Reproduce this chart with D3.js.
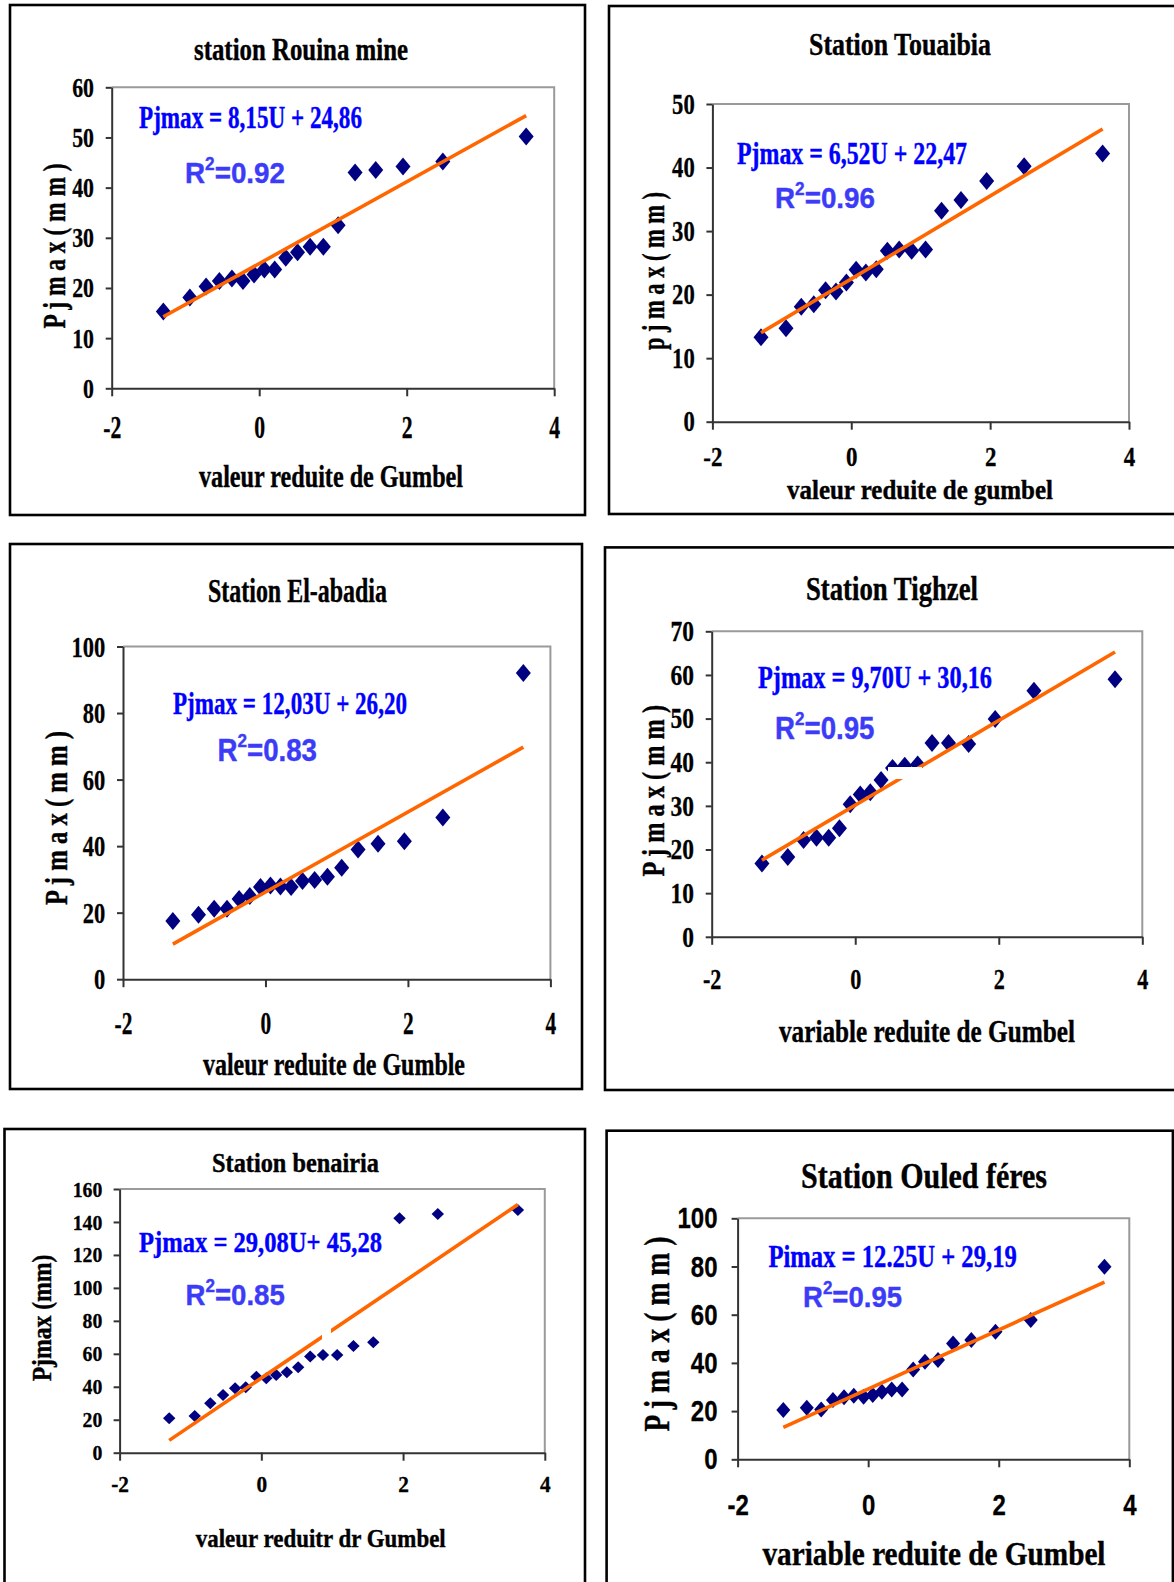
<!DOCTYPE html>
<html>
<head>
<meta charset="utf-8">
<script src="https://d3js.org/d3.v7.min.js"></script>
<style>
  body { margin: 0; background: #fff; }
  svg { display: block; }
</style>
</head>
<body>
<svg width="1174" height="1582"></svg>
<script>
// Gumbel reduced variable (same plotting positions in every station)
const gumbelU = [-1.30, -0.94, -0.72, -0.54, -0.37, -0.22, -0.07, 0.07, 0.21, 0.36, 0.52, 0.69, 0.87, 1.07, 1.30, 1.58, 1.95, 2.49, 3.62];

// observed Pjmax (mm) per station
const rouinaMine = [15.3, 18.1, 20.3, 21.4, 21.9, 21.4, 22.7, 23.7, 23.7, 26.0, 27.1, 28.2, 28.2, 32.5, 43.0, 43.5, 44.2, 45.2, 50.2];
const touaibia   = [13.3, 14.7, 18.1, 18.5, 20.7, 20.5, 21.9, 23.9, 23.5, 24.0, 26.9, 27.1, 26.9, 27.1, 33.2, 34.9, 37.9, 40.2, 42.2];
const elAbadia   = [17.5, 19.4, 21.2, 21.2, 24.1, 25.0, 27.7, 28.2, 27.9, 27.7, 29.5, 29.8, 30.8, 33.5, 39.0, 40.7, 41.5, 48.6, 92.0];
const tighzel    = [16.8, 18.3, 22.2, 22.7, 22.7, 24.9, 30.4, 32.6, 33.1, 35.9, 38.7, 39.2, 39.5, 44.4, 44.4, 44.2, 49.9, 56.4, 59.0];
const benairia   = [20.9, 22.3, 30.0, 35.0, 39.1, 39.7, 46.1, 45.1, 47.1, 48.8, 51.8, 58.3, 59.3, 59.3, 64.7, 67.0, 142.2, 144.8, 147.3];
const ouledFeres = [20.5, 21.4, 20.7, 24.6, 25.7, 26.4, 26.0, 26.7, 28.0, 29.0, 29.0, 37.3, 40.5, 41.2, 48.1, 49.5, 52.9, 57.8, 79.9];
const seriesList = [rouinaMine, touaibia, elAbadia, tighzel, benairia, ouledFeres];

// fitted lines Pjmax = a U + b
const fitSlope     = [8.15, 6.52, 12.03, 9.70, 29.08, 12.25];
const fitIntercept = [24.86, 22.47, 26.20, 30.16, 45.28, 29.19];
const r2Values     = [0.92, 0.96, 0.83, 0.95, 0.85, 0.95];
const eqLabels = ["Pjmax = 8,15U + 24,86", "Pjmax = 6,52U + 22,47", "Pjmax = 12,03U + 26,20",
                  "Pjmax = 9,70U + 30,16", "Pjmax = 29,08U+ 45,28", "Pimax = 12.25U + 29,19"];

const titles = ["station Rouina mine", "Station Touaibia", "Station El-abadia",
                "Station Tighzel", "Station benairia", "Station Ouled féres"];
const xTitles = ["valeur reduite de Gumbel", "valeur reduite de gumbel", "valeur reduite de Gumble",
                 "variable reduite de Gumbel", "valeur reduitr dr Gumbel", "variable reduite de Gumbel"];
const yTitles = ["P j m a x  ( m m )", "p j m a x  ( m m )", "P j m a x  ( m m )",
                 "P j m a x  ( m m )", "Pjmax (mm)", "P j m a x  ( m m )"];
const xTicks = [-2, 0, 2, 4];
const xDomain = [-2, 4];
const yMax  = [60, 50, 100, 70, 160, 100];
const yStep = [10, 10, 20, 10, 20, 20];

// layout of each panel (pixels): [x, y, font size, text length]
const layout = [
  { box: [10, 5, 585, 515], plot: [111.7, 87.3, 554.2, 388.3], mk: [7.5, 9],
    title: [301, 60, 32, 214], eq: [139, 128, 31, 223], r2: [185, 183, 30, 100],
    xt: [331, 487, 32, 264], yt: [65, 246, 32, 165],
    yTick: { size: 28, right: 94, k: 0.78 }, xTick: { size: 31, base: 438, k: 0.7 } },
  { box: [609, 6, 1182, 514], plot: [712.4, 104, 1129, 421.7], mk: [7.5, 9],
    title: [900, 55, 32, 182], eq: [737, 164, 31, 230], r2: [775, 208, 30, 100],
    xt: [920, 499, 27, 266], yt: [664, 271, 31, 158],
    yTick: { size: 29, right: 694.7, k: 0.78 }, xTick: { size: 28, base: 466, k: 0.82 } },
  { box: [10, 544, 582, 1089], plot: [123, 646.5, 550.4, 979.2], mk: [7.5, 9],
    title: [297.5, 602, 33, 179], eq: [173, 713.8, 31, 234], r2: [217.5, 760.5, 31, 99.5],
    xt: [334, 1075, 32, 262], yt: [67, 818, 32, 174],
    yTick: { size: 30, right: 105.3, k: 0.75 }, xTick: { size: 31, base: 1034, k: 0.69 } },
  { box: [605, 547.4, 1182, 1090], plot: [711.7, 631.3, 1142.3, 936.8], mk: [7.5, 9],
    title: [892, 599.8, 33, 172], eq: [758, 688, 31, 234], r2: [775, 738.5, 31, 99.5],
    xt: [927, 1042, 32, 296], yt: [664, 790.8, 32, 171.6],
    yTick: { size: 29, right: 694, k: 0.81 }, xTick: { size: 30, base: 988.8, k: 0.74 },
    mask: [888, 767, 34, 12] },
  { box: [4.5, 1129, 585, 1600], plot: [119.6, 1189, 544.8, 1452.7], mk: [6.2, 6],
    title: [295.5, 1171.7, 27, 167], eq: [139, 1251.7, 30, 243], r2: [185.5, 1305, 30, 99.3],
    xt: [320.7, 1546.7, 26, 250], yt: [51, 1318, 27, 126.7],
    yTick: { size: 22, right: 102.3, k: 0.9 }, xTick: { size: 24, base: 1491.7, k: 0.89 },
    mask: [322, 1325, 9, 15] },
  { box: [606.6, 1130.7, 1172.9, 1600], plot: [737.6, 1218.3, 1129.3, 1459.3], mk: [7, 8],
    title: [924, 1188.3, 36, 246], eq: [768.4, 1266.7, 31, 248.4], r2: [803, 1306.7, 30, 99],
    xt: [934, 1565, 34, 343], yt: [669, 1334, 35, 195],
    yTick: { size: 30, right: 717.5, k: 0.8, sans: true }, xTick: { size: 30, base: 1515, k: 0.8, sans: true } }
];

const serif = "'Liberation Serif', 'Times New Roman', serif";
const sans = "'Liberation Sans', Arial, sans-serif";
const axisColor = "#333";

const svg = d3.select("svg");
svg.append("rect").attr("width", 1174).attr("height", 1582).attr("fill", "#fff");

function label(g, spec, text, opts) {
  const [x, y, size, len] = spec;
  const fill = opts.fill || "#000";
  const t = g.append("text")
    .attr("x", x).attr("y", y)
    .attr("text-anchor", opts.anchor || "middle")
    .attr("font-family", opts.sans ? sans : serif)
    .attr("font-weight", "bold")
    .attr("font-size", size)
    .attr("fill", fill)
    .attr("stroke", fill).attr("stroke-width", 0.4)
    .attr("textLength", len)
    .attr("lengthAdjust", "spacingAndGlyphs");
  if (opts.sup) {
    t.append("tspan").text(text[0]);
    t.append("tspan").attr("font-size", size * 0.62).attr("dy", -size * 0.42).text(text[1]);
    t.append("tspan").attr("dy", size * 0.42).text(text[2]);
  } else {
    t.text(text);
  }
  if (opts.rotate) t.attr("transform", `rotate(-90 ${x} ${y})`);
  return t;
}

function diamond(hw, hh) {
  return { draw(ctx) {
    ctx.moveTo(0, -hh); ctx.lineTo(hw, 0); ctx.lineTo(0, hh); ctx.lineTo(-hw, 0); ctx.closePath();
  } };
}

function drawPanel(i) {
  const L = layout[i];
  const values = seriesList[i];
  const g = svg.append("g");

  g.append("rect")
    .attr("x", L.box[0]).attr("y", L.box[1])
    .attr("width", L.box[2] - L.box[0]).attr("height", L.box[3] - L.box[1])
    .attr("fill", "none").attr("stroke", "#000").attr("stroke-width", 2.6);

  const x = d3.scaleLinear().domain(xDomain).range([L.plot[0], L.plot[2]]);
  const y = d3.scaleLinear().domain([0, yMax[i]]).range([L.plot[3], L.plot[1]]);

  // grey frame on top and right
  g.append("path")
    .attr("d", `M${L.plot[0]},${L.plot[1]}H${L.plot[2]}V${L.plot[3]}`)
    .attr("fill", "none").attr("stroke", "#9a9a9a").attr("stroke-width", 2);

  // y axis
  const ya = g.append("g")
    .attr("transform", `translate(${L.plot[0]},0)`)
    .call(d3.axisLeft(y).tickValues(d3.range(0, yMax[i] + 1, yStep[i]))
      .tickFormat(d => String(d)).tickSize(6).tickSizeOuter(0).tickPadding(0));
  ya.attr("font-family", L.yTick.sans ? sans : serif).attr("font-weight", "bold")
    .attr("font-size", L.yTick.size);
  ya.select(".domain").attr("stroke", axisColor).attr("stroke-width", 2);
  ya.selectAll(".tick line").attr("stroke", axisColor).attr("stroke-width", 2);
  ya.selectAll(".tick text").attr("x", null).attr("fill", "#000")
    .attr("stroke", "#000").attr("stroke-width", 0.3)
    .attr("transform", `translate(${L.yTick.right - L.plot[0]},0) scale(${L.yTick.k},1)`);

  // x axis
  const xa = g.append("g")
    .attr("transform", `translate(0,${L.plot[3]})`)
    .call(d3.axisBottom(x).tickValues(xTicks).tickFormat(d => String(d))
      .tickSize(8).tickSizeOuter(0));
  xa.attr("font-family", L.xTick.sans ? sans : serif).attr("font-weight", "bold")
    .attr("font-size", L.xTick.size);
  xa.select(".domain").attr("stroke", axisColor).attr("stroke-width", 2);
  xa.selectAll(".tick line").attr("stroke", axisColor).attr("stroke-width", 2);
  xa.selectAll(".tick text").attr("y", null).attr("dy", null).attr("fill", "#000")
    .attr("stroke", "#000").attr("stroke-width", 0.3)
    .attr("transform", `translate(0,${L.xTick.base - L.plot[3]}) scale(${L.xTick.k},1)`);

  // observed points
  const pts = gumbelU.map((u, j) => [u, values[j]]);
  g.append("g").selectAll("path").data(pts).enter().append("path")
    .attr("d", d3.symbol().type(diamond(L.mk[0], L.mk[1])))
    .attr("transform", d => `translate(${x(d[0])},${y(d[1])})`)
    .attr("fill", "#000080");

  // fitted Gumbel line
  const uExt = d3.extent(gumbelU);
  const fit = uExt.map(u => [u, fitSlope[i] * u + fitIntercept[i]]);
  g.append("path")
    .attr("d", d3.line().x(d => x(d[0])).y(d => y(d[1]))(fit))
    .attr("fill", "none").attr("stroke", "#ff6600").attr("stroke-width", 3.6);

  if (L.mask) {
    g.append("rect").attr("x", L.mask[0]).attr("y", L.mask[1])
      .attr("width", L.mask[2]).attr("height", L.mask[3]).attr("fill", "#fff");
  }

  label(g, L.title, titles[i], {});
  label(g, L.eq, eqLabels[i], { anchor: "start", fill: "#0000ff" });
  label(g, L.r2, ["R", "2", "=" + d3.format(".2f")(r2Values[i])],
    { anchor: "start", fill: "#3c3cf8", sans: true, sup: true });
  label(g, L.xt, xTitles[i], {});
  label(g, L.yt, yTitles[i], { rotate: true });
}

for (let i = 0; i < 6; i++) drawPanel(i);
</script>
</body>
</html>
